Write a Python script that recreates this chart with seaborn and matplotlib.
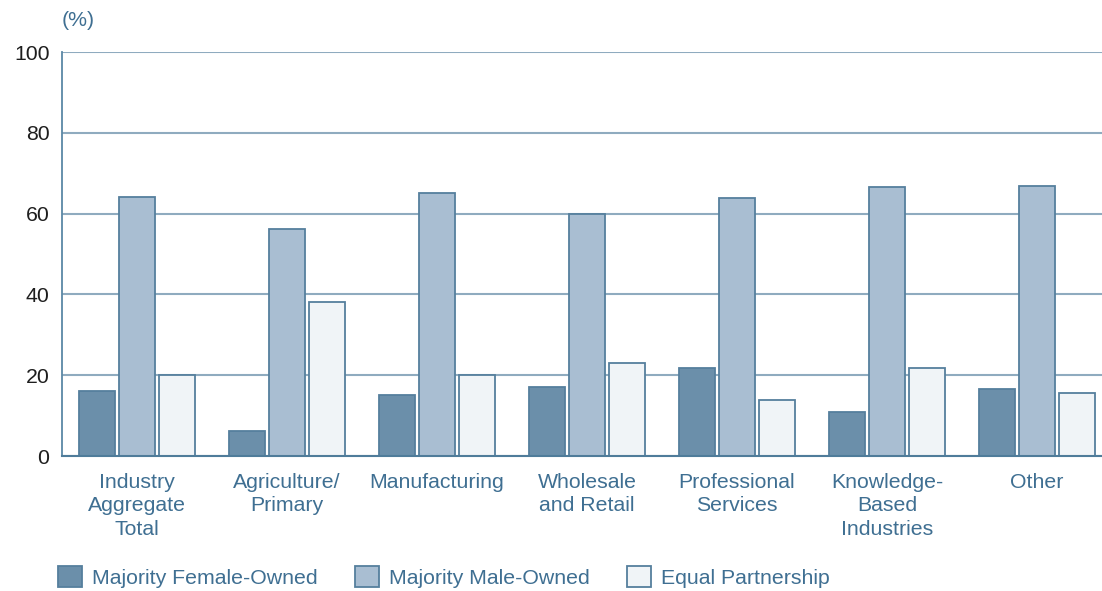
import matplotlib
matplotlib.use("Agg")
import matplotlib.pyplot as plt
import seaborn as sns
import pandas as pd

categories = [
    "Industry\nAggregate\nTotal",
    "Agriculture/\nPrimary",
    "Manufacturing",
    "Wholesale\nand Retail",
    "Professional\nServices",
    "Knowledge-\nBased\nIndustries",
    "Other",
]
series_names = ["Majority Female-Owned", "Majority Male-Owned", "Equal Partnership"]
female_owned = [16.1, 6.2, 15.2, 17.1, 21.9, 10.9, 16.5]
male_owned = [64.0, 56.2, 65.0, 60.0, 63.9, 66.7, 66.9]
equal_partnership = [20.1, 38.1, 20.1, 23.1, 13.9, 21.8, 15.6]
y_ticks = [0, 20, 40, 60, 80, 100]

df = pd.DataFrame({
    "category": categories * 3,
    "ownership": [series_names[0]] * 7 + [series_names[1]] * 7 + [series_names[2]] * 7,
    "share": female_owned + male_owned + equal_partnership,
})

sns.set_theme(style="white")
plt.rcParams["font.family"] = ["Liberation Sans", "DejaVu Sans"]

blue_text = "#3f6f92"
grid_col = "#8fabbf"
edge_col = "#557f9d"
palette = {series_names[0]: "#6b8faa",
           series_names[1]: "#a9bed2",
           series_names[2]: "#f0f4f7"}
fs = 15.3

W, H = 1102, 591
fig = plt.figure(figsize=(W / 100, H / 100), dpi=100)
ax = fig.add_axes([62 / W, (H - 456) / H, (W - 62) / W, (456 - 52) / H])

sns.barplot(data=df, x="category", y="share", hue="ownership",
            hue_order=series_names, palette=palette, width=0.8, gap=0.1,
            edgecolor=edge_col, linewidth=1.3, saturation=1, ax=ax,
            legend=True, zorder=3)

ax.set_xlim(-0.5, -0.5 + (W - 62) / 150)
ax.set_ylim(0, 100)
ax.set_yticks(y_ticks)
ax.yaxis.grid(True, color=grid_col, linewidth=1.5, zorder=0)
ax.set_axisbelow(True)
ax.set_xlabel("")
ax.set_ylabel("")
for s in ["top", "right"]:
    ax.spines[s].set_visible(False)
ax.spines["left"].set_color("#5b88a6")
ax.spines["left"].set_linewidth(1.3)
ax.spines["bottom"].set_color("#4f7c9a")
ax.spines["bottom"].set_linewidth(1.5)
ax.spines["bottom"].set_zorder(4)

ax.tick_params(axis="y", length=0, pad=9, labelsize=fs, labelcolor="#1e1e1e")
ax.tick_params(axis="x", length=0, pad=12, labelsize=fs, labelcolor=blue_text)
for lbl in ax.get_xticklabels():
    lbl.set_linespacing(1.32)
    lbl.set_verticalalignment("top")

fig.text(78 / W, 1 - 20 / H, "(%)", color=blue_text, fontsize=fs,
         ha="center", va="center")

handles, labels = ax.get_legend_handles_labels()
ax.get_legend().remove()
leg = fig.legend(handles, labels, loc="center left",
                 bbox_to_anchor=(58 / W, 1 - 577 / H), ncol=3, frameon=False,
                 fontsize=fs, handlelength=1.15, handleheight=1.15,
                 handletextpad=0.45, columnspacing=1.75, borderaxespad=0,
                 borderpad=0)
for t in leg.get_texts():
    t.set_color(blue_text)

fig.savefig("out.png", dpi=100)
